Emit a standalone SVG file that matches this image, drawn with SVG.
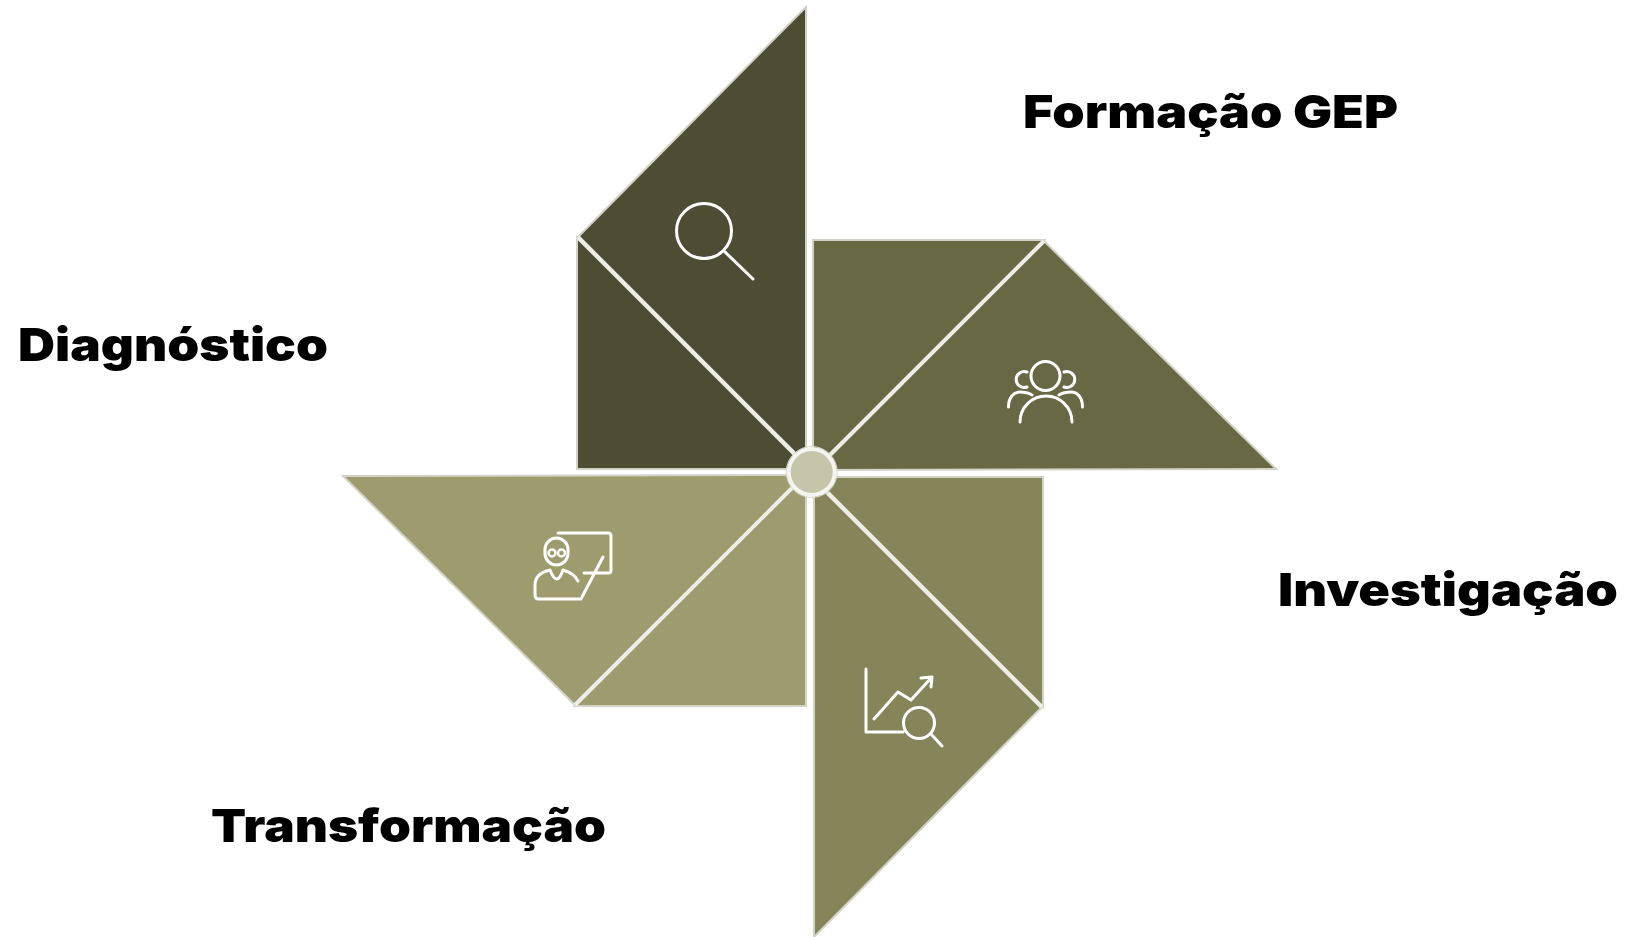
<svg xmlns="http://www.w3.org/2000/svg" width="1626" height="937" viewBox="0 0 1626 937">
<style>
.p{stroke:#d2d2c6;stroke-width:2;stroke-linejoin:miter}
.a{fill:#4d4d33}.b{fill:#686845}.c{fill:#858559}.d{fill:#9e9b6f}
.i{fill:none;stroke:#fff;stroke-width:3;stroke-linecap:round;stroke-linejoin:round}
.g{fill:none;stroke:#fff;stroke-width:2.5}
.t{font-family:Inter,"Liberation Sans",sans-serif;font-weight:900;font-size:46px;fill:#000}
.s{stroke:#eeeee8;stroke-width:4;fill:none}
</style>
<rect width="1626" height="937" fill="#fff"/>
<g id="diagnostico">
<path class="p a" d="M806 7L578 237L806 465Z"/>
<path class="p a" d="M577 238V469L808 469Z"/>
<path class="s" d="M578 237L795 454"/>
<circle class="i" cx="704" cy="231" r="27.5"/>
<path class="i" d="M724 251L753 279"/>
<text class="t" x="18" y="361" textLength="310" lengthAdjust="spacingAndGlyphs">Diagnóstico</text>
</g>
<g id="formacao">
<path class="p b" d="M813 240H1044L813 471Z"/>
<path class="p b" d="M1044 241L1276 469L815 470Z"/>
<path class="s" d="M1044 241L827 458"/>
<circle class="i" cx="1045.5" cy="376" r="14.5"/>
<path class="i" d="M1020 422A26 26 0 0 1 1072 422M1027 372A8 8 0 1 0 1027 387M1008.500 407C1008.500 397 1014 392 1020 392Q1027 392 1032 395M1064 372A8 8 0 1 1 1064 387M1082.500 407C1082.500 397 1077 392 1071 392Q1064 392 1059 395"/>
<text class="t" x="1023" y="128" textLength="375" lengthAdjust="spacingAndGlyphs">Formação GEP</text>
</g>
<g id="investigacao">
<path class="p c" d="M813 477L1043 477V707Z"/>
<path class="p c" d="M1041 708L814 937L814 481Z"/>
<path class="s" d="M1042 707L828 493"/>
<path class="i" d="M866 669V732H903M874 719L898 692L911 700L932 677M921 678L932 677L931 687M931 734L942 746"/>
<circle class="i" cx="919" cy="723" r="15.5"/>
<text class="t" x="1278" y="606" textLength="340" lengthAdjust="spacingAndGlyphs">Investigação</text>
</g>
<g id="transformacao">
<path class="p d" d="M343 476L806 475L575 705Z"/>
<path class="p d" d="M575 706H806L806 475Z"/>
<path class="s" d="M575 705L795 485"/>
<path class="i" d="M558 533H608Q611 533 611 536V570Q611 573 608 573H584M603 557L582 597M550 570C541 572 535 577 535 585V595Q535 599 539 599H581M550 570Q557 588 563 570C570 572 575 575 578 581"/>
<rect class="i" x="545" y="538" width="23" height="27" rx="11.500"/>
<circle class="g" cx="552" cy="553" r="3.500"/>
<circle class="g" cx="561.500" cy="553" r="3.500"/>
<text class="t" x="211" y="842" textLength="395" lengthAdjust="spacingAndGlyphs">Transformação</text>
</g>
<g id="centro">
<circle cx="811.700" cy="472" r="25.500" fill="none" stroke="#d8d8cc" stroke-width="1"/>
<circle cx="811.700" cy="472" r="23" fill="#c5c5a9" stroke="#f4f4f0" stroke-width="4"/>
</g>
</svg>
